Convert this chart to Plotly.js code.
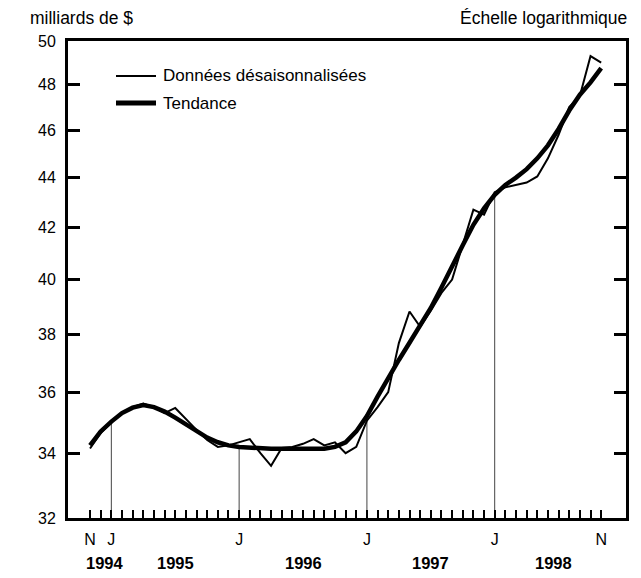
<!DOCTYPE html>
<html>
<head>
<meta charset="utf-8">
<script src="https://cdn.plot.ly/plotly-3.0.1.min.js"></script>
<style>html,body{margin:0;padding:0;background:#fff;}</style>
</head>
<body>
<div id="chart" style="width:641px;height:578px;"></div>
<script>
// Months: Nov 1994 (index 0) .. Nov 1998 (index 48)
const monthIndex = Array.from({length: 49}, (_, i) => i);
const monthLabels = ['N','','J','','','','','','','','','','','','J','','','','','','','','','','','','J','','','','','','','','','','','','J','','','','','','','','','','N'];
const yearLabels = ['1994','1995','1996','1997','1998'];
const yearPositions = [1.4, 8, 20, 32, 43.5];
const janIndex = [2, 14, 26, 38];

// Seasonally adjusted data (billions of $)
const seasonallyAdjusted = [
  34.15, 34.65,
  35.0, 35.3, 35.5, 35.62, 35.5, 35.3, 35.47, 35.1, 34.75, 34.42, 34.2, 34.25,
  34.35, 34.45, 34.0, 33.6, 34.17, 34.2, 34.3, 34.45, 34.25, 34.35, 34.0, 34.2,
  35.05, 35.5, 36.0, 37.69, 38.82, 38.27, 38.85, 39.5, 40.0, 41.3, 42.7, 42.5,
  43.4, 43.6, 43.7, 43.8, 44.05, 44.8, 45.8, 47.0, 47.5, 49.3, 49.0
];
// Trend
const trend = [
  34.25, 34.7,
  35.02, 35.3, 35.48, 35.57, 35.5, 35.35, 35.15, 34.92, 34.7, 34.5, 34.35, 34.25,
  34.2, 34.17, 34.15, 34.14, 34.14, 34.14, 34.13, 34.13, 34.14, 34.2, 34.35, 34.7,
  35.2, 35.85, 36.5, 37.1, 37.7, 38.3, 38.95, 39.7, 40.45, 41.3, 42.1, 42.75,
  43.3, 43.7, 44.0, 44.35, 44.8, 45.35, 46.05, 46.85, 47.55, 48.1, 48.75
];
const yTicks = [32, 34, 36, 38, 40, 42, 44, 46, 48, 50];
const yMin = 32, yMax = 50;

const FONT = 'Liberation Sans, Arial, sans-serif';

// Drop lines at each January, from axis bottom up to the trend value
const dropX = [], dropY = [];
janIndex.forEach(i => { dropX.push(i, i, null); dropY.push(yMin, trend[i], null); });

const traces = [
  {x: dropX, y: dropY, mode: 'lines', line: {color: '#444', width: 1}, hoverinfo: 'skip', showlegend: false},
  {x: monthIndex, y: trend, mode: 'lines', name: 'Tendance', line: {color: '#000', width: 4.5}, showlegend: false},
  {x: monthIndex, y: seasonallyAdjusted, mode: 'lines', name: 'Données désaisonnalisées', line: {color: '#000', width: 2}, showlegend: false}
];

const L = 68, R = 626, T = 41, B = 518;
const px = v => (v - L) / (R - L);
const py = v => (B - v) / (B - T);

const annotations = yearLabels.map((t, k) => ({
  text: t, x: yearPositions[k], xref: 'x', y: py(563), yref: 'paper',
  showarrow: false, xanchor: 'center', yanchor: 'middle',
  font: {family: FONT, size: 16.5, color: '#000', weight: 'bold'}
}));
annotations.push(
  {text: 'milliards de $', xref: 'paper', yref: 'paper', x: px(28), y: py(18), xanchor: 'left', yanchor: 'middle', showarrow: false, font: {family: FONT, size: 17.5, color: '#000'}},
  {text: 'Échelle logarithmique', xref: 'paper', yref: 'paper', x: px(629), y: py(18), xanchor: 'right', yanchor: 'middle', showarrow: false, font: {family: FONT, size: 17.5, color: '#000'}},
  {text: 'Données désaisonnalisées', xref: 'paper', yref: 'paper', x: px(161), y: py(76), xanchor: 'left', yanchor: 'middle', showarrow: false, font: {family: FONT, size: 17, color: '#000'}},
  {text: 'Tendance', xref: 'paper', yref: 'paper', x: px(161), y: py(103), xanchor: 'left', yanchor: 'middle', showarrow: false, font: {family: FONT, size: 17, color: '#000'}}
);

const shapes = [
  {type: 'line', xref: 'paper', yref: 'paper', x0: px(116), x1: px(156), y0: py(76), y1: py(76), line: {color: '#000', width: 2}},
  {type: 'line', xref: 'paper', yref: 'paper', x0: px(116), x1: px(156), y0: py(103), y1: py(103), line: {color: '#000', width: 5}}
];

const layout = {
  width: 641, height: 578,
  margin: {l: L, r: 641 - R, t: T, b: 578 - B, pad: 0},
  paper_bgcolor: '#fff', plot_bgcolor: '#fff',
  showlegend: false,
  font: {family: FONT, size: 16, color: '#000'},
  xaxis: {
    range: [-2.07, 50.33],
    tickmode: 'array', tickvals: monthIndex, ticktext: monthLabels,
    ticks: 'inside', ticklen: 8, tickwidth: 2, tickcolor: '#000',
    showline: true, linewidth: 3, linecolor: '#000', mirror: true,
    showgrid: false, zeroline: false,
    tickfont: {family: FONT, size: 16, color: '#000'},
    ticklabelstandoff: 5
  },
  yaxis: {
    type: 'log', range: [Math.log10(yMin), Math.log10(yMax)],
    tickmode: 'array', tickvals: yTicks, ticktext: yTicks.map(String),
    ticks: 'inside', ticklen: 12, tickwidth: 3, tickcolor: '#000',
    showline: true, linewidth: 3, linecolor: '#000', mirror: 'ticks',
    showgrid: false, zeroline: false,
    tickfont: {family: FONT, size: 16, color: '#000'},
    ticklabelstandoff: 6
  },
  annotations: annotations,
  shapes: shapes
};

Plotly.newPlot('chart', traces, layout, {displayModeBar: false, staticPlot: true});
</script>
</body>
</html>
